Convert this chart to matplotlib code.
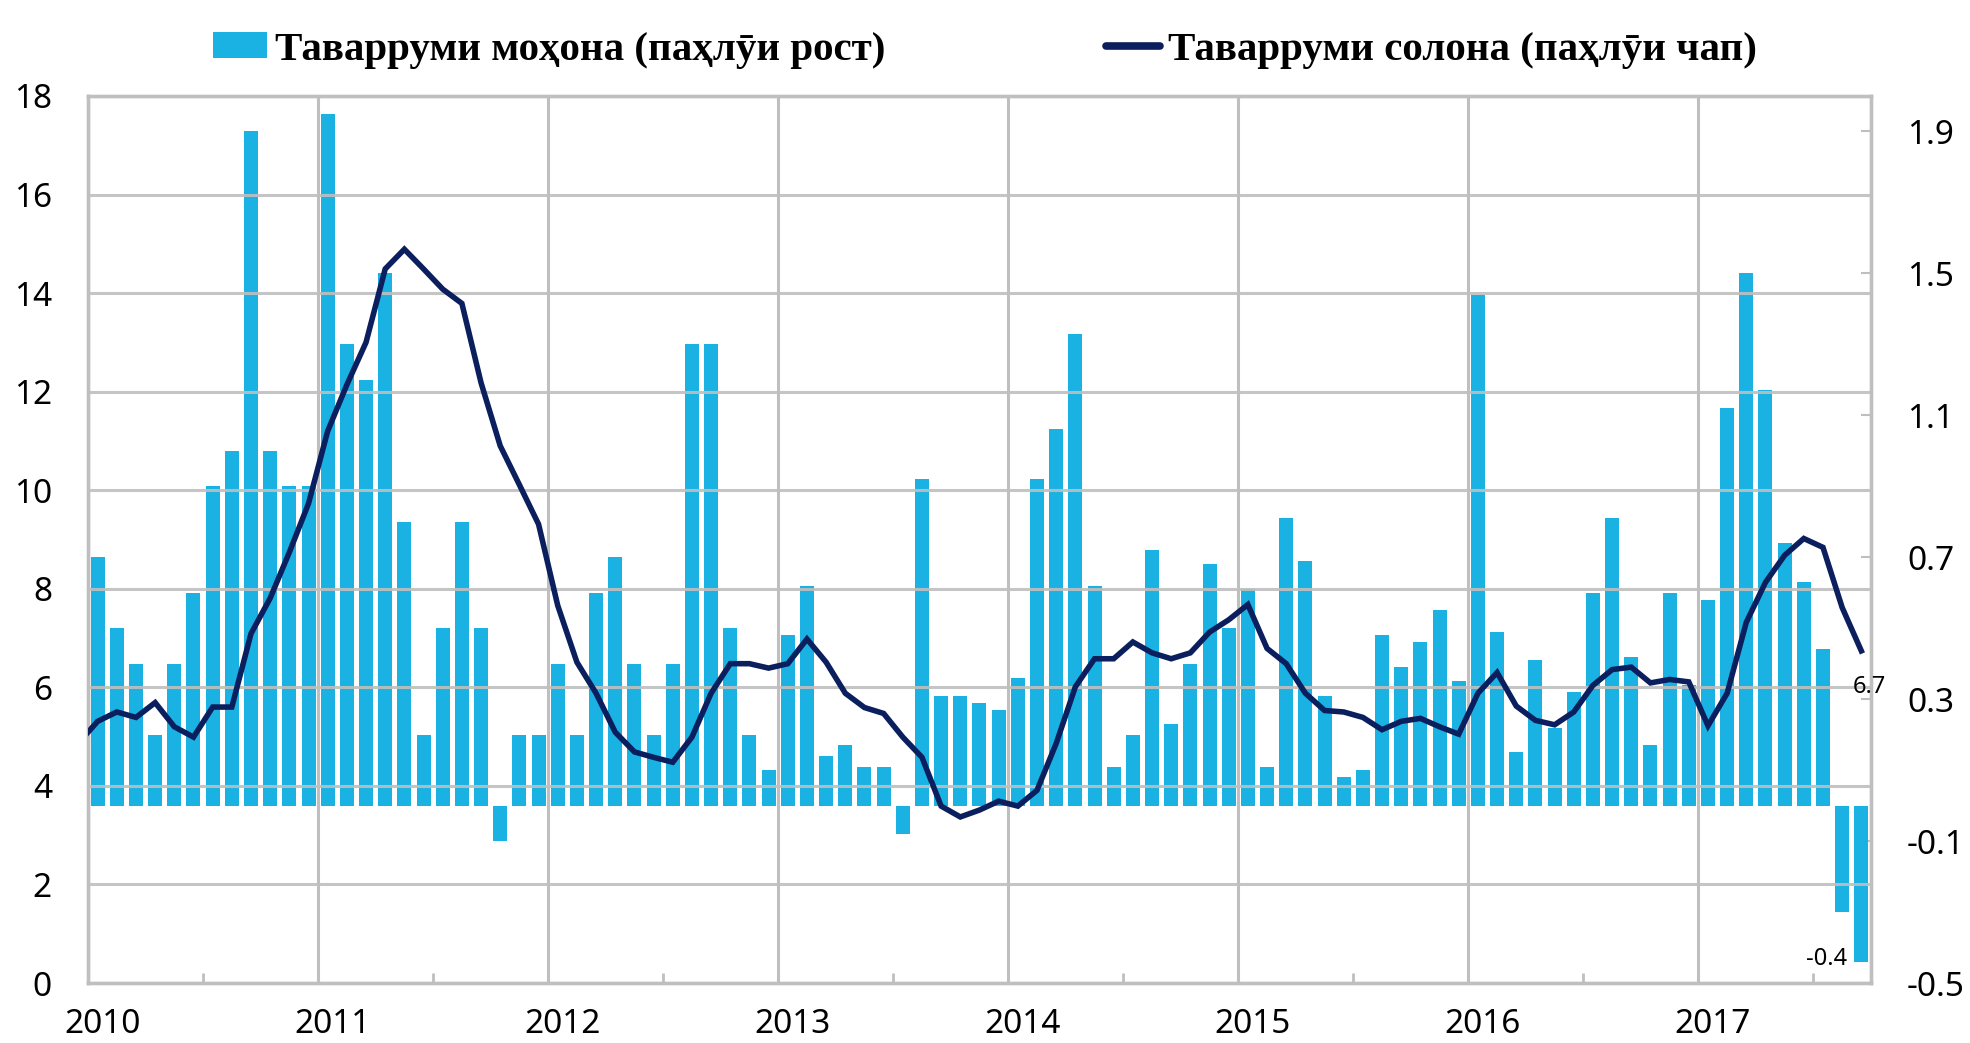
import numpy as np
import matplotlib
matplotlib.use("Agg")
import matplotlib.pyplot as plt
from matplotlib.patches import Patch
from matplotlib.lines import Line2D
from matplotlib.transforms import blended_transform_factory

# Таваррум: моҳона (%, паҳлӯи рост) ва солона (%, паҳлӯи чап), январи 2010 - сентябри 2017
years = ["2010", "2011", "2012", "2013", "2014", "2015", "2016", "2017"]

monthly = [
    0.70, 0.50, 0.40, 0.20, 0.40, 0.60, 0.90, 1.00, 1.90, 1.00, 0.90, 0.90,     # 2010
    1.95, 1.30, 1.20, 1.50, 0.80, 0.20, 0.50, 0.80, 0.50, -0.10, 0.20, 0.20,    # 2011
    0.40, 0.20, 0.60, 0.70, 0.40, 0.20, 0.40, 1.30, 1.30, 0.50, 0.20, 0.10,     # 2012
    0.48, 0.62, 0.14, 0.17, 0.11, 0.11, -0.08, 0.92, 0.31, 0.31, 0.29, 0.27,    # 2013
    0.36, 0.92, 1.06, 1.33, 0.62, 0.11, 0.20, 0.72, 0.23, 0.40, 0.68, 0.50,     # 2014
    0.61, 0.11, 0.81, 0.69, 0.31, 0.08, 0.10, 0.48, 0.39, 0.46, 0.55, 0.35,     # 2015
    1.44, 0.49, 0.15, 0.41, 0.22, 0.32, 0.60, 0.81, 0.42, 0.17, 0.60, 0.34,     # 2016
    0.58, 1.12, 1.50, 1.17, 0.74, 0.63, 0.44, -0.30, -0.44,                     # 2017
]

# солона: аз декабри 2009 (нуқтаи аввал берун аз тир бурида мешавад)
annual = [
    4.87,
    5.31, 5.50, 5.39, 5.69, 5.20, 4.99, 5.60, 5.60, 7.09, 7.81, 8.74, 9.73,
    11.20, 12.14, 13.00, 14.49, 14.89, 14.49, 14.08, 13.79, 12.18, 10.90, 10.11, 9.31,
    7.66, 6.51, 5.88, 5.09, 4.69, 4.58, 4.48, 4.99, 5.88, 6.48, 6.48, 6.39,
    6.48, 6.98, 6.51, 5.88, 5.59, 5.47, 4.99, 4.58, 3.59, 3.37, 3.51, 3.69,
    3.59, 3.91, 4.86, 6.01, 6.58, 6.58, 6.92, 6.70, 6.58, 6.70, 7.12, 7.37,
    7.68, 6.79, 6.48, 5.88, 5.53, 5.50, 5.39, 5.14, 5.31, 5.37, 5.20, 5.05,
    5.88, 6.30, 5.62, 5.33, 5.24, 5.50, 6.04, 6.36, 6.41, 6.09, 6.16, 6.11,
    5.22, 5.88, 7.32, 8.13, 8.68, 9.02, 8.84, 7.62, 6.74,
]

right_ticks = [-0.5, -0.1, 0.3, 0.7, 1.1, 1.5, 1.9]
left_ticks = list(range(0, 19, 2))

label_bar = "Таварруми моҳона (паҳлӯи рост)"
label_line = "Таварруми солона (паҳлӯи чап)"

BAR_COLOR = "#1AB2E3"
LINE_COLOR = "#0B1F5E"
GRID = "#BFBFBF"
SANS = ["Noto Sans", "DejaVu Sans"]
SERIF = ["Liberation Serif", "DejaVu Serif"]

n = len(monthly)
x_bar = np.arange(n)
x_line = np.arange(-1, n)

fig = plt.figure(figsize=(19.7, 10.43), dpi=100)
ax = fig.add_axes([0.0447, 0.0575, 0.905, 0.8505])
ax2 = ax.twinx()

# бар — дар тири рост
ax.bar(x_bar, monthly, width=0.73, color=BAR_COLOR, zorder=2)
ax.set_xlim(-0.5, n - 0.5)
ax.set_ylim(-0.5, 2.0)
ax.set_yticks(right_ticks)
ax.set_yticklabels([f"{v:.1f}" for v in right_ticks], family=SANS, fontsize=24)
ax.yaxis.tick_right()
ax.tick_params(axis="y", direction="in", length=7, width=1.5, color=GRID, pad=26)

# хатти солона — дар тири чап
ax2.plot(x_line, annual, color=LINE_COLOR, lw=4.0, solid_joinstyle="miter", zorder=3)
ax2.set_ylim(0, 18)
ax2.set_yticks(left_ticks)
ax2.set_yticklabels([str(v) for v in left_ticks], family=SANS, fontsize=24)
ax2.yaxis.tick_left()
ax2.tick_params(axis="y", length=0, pad=26)
ax2.set_axisbelow(True)
ax2.grid(axis="y", color=GRID, lw=2.2, alpha=0.9)

# хатҳои солҳо ва аломатҳои нимсола
year_edges = np.arange(0, n + 12, 12) - 0.5
ax.set_xticks(year_edges[year_edges < n])
ax.set_xticklabels([])
ax.tick_params(axis="x", which="major", length=0)
ax.set_xticks(np.arange(5.5, n, 12), minor=True)
ax.tick_params(axis="x", which="minor", direction="in", length=7, width=2, color=GRID)
ax.grid(axis="x", color=GRID, lw=2.2)
ax.set_axisbelow(True)
ax2.tick_params(axis="x", which="both", length=0)

trans = blended_transform_factory(ax.transData, ax.transAxes)
for i, yr in enumerate(years):
    ax.text(12 * i + 0.25, -0.047, yr, transform=trans, ha="center", va="center",
            family=SANS, fontsize=24)

for a in (ax, ax2):
    for sp in a.spines.values():
        sp.set_color(GRID)
        sp.set_linewidth(2.4)

# қиматҳои охирин
ax2.annotate("6.7", (x_line[-1], annual[-1]), xytext=(6, -26), textcoords="offset points",
             ha="center", va="center", family=SANS, fontsize=17)
ax.annotate("-0.4", (x_bar[-1], monthly[-1]), xytext=(-10, 2), textcoords="offset points",
            ha="right", va="center", family=SANS, fontsize=17)

handles = [Patch(facecolor=BAR_COLOR, edgecolor="none"),
           Line2D([], [], color=LINE_COLOR, lw=5.5, solid_capstyle="round")]
fig.legend(handles, [label_bar, label_line], loc="upper center", bbox_to_anchor=(0.5, 1.005),
           ncol=2, frameon=False, handlelength=1.3, handleheight=0.6, handletextpad=0.2,
           columnspacing=5.4, prop={"family": SERIF, "weight": "bold", "size": 29.5})

fig.savefig("out.png", dpi=100)
